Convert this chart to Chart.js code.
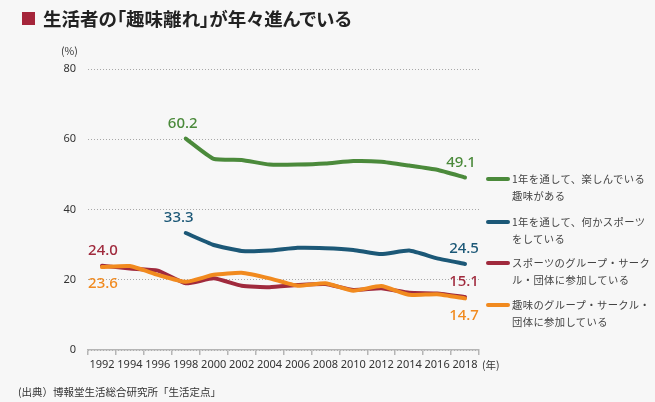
<!DOCTYPE html>
<html lang="ja">
<head>
<meta charset="utf-8">
<script src="https://cdn.jsdelivr.net/npm/chart.js@4"></script>
<style>
  html,body{margin:0;padding:0;background:#f7f7f7;}
  body{width:655px;height:402px;position:relative;overflow:hidden;font-family:"Noto Sans CJK JP","Noto Sans",sans-serif;}
  #c{position:absolute;left:0;top:0;}
  .title{position:absolute;left:22px;top:5px;font-size:18.5px;font-weight:bold;color:#222;display:flex;align-items:center;white-space:nowrap;font-feature-settings:"palt";}
  .title .sq{display:inline-block;width:13px;height:13px;background:#a5253a;margin-right:8px;}
  .src{position:absolute;left:18px;top:384px;font-size:10.5px;color:#333;white-space:nowrap;}
  .unit{position:absolute;font-size:10.5px;color:#333;white-space:nowrap;}
  .leg{position:absolute;left:486px;font-size:10.3px;color:#444;line-height:17px;letter-spacing:0.4px;}
  .leg .ln{position:absolute;left:0;top:7px;width:24px;height:4px;border-radius:2px;}
  .leg .tx{margin-left:26px;white-space:nowrap;}
</style>
</head>
<body>
<canvas id="c" width="655" height="402"></canvas>
<div class="title"><span class="sq"></span>生活者の「趣味離れ」が年々進んでいる</div>
<div class="unit" style="left:61px;top:43px;">(%)</div>
<div class="unit" style="left:482px;top:357px;">(年)</div>
<div class="src">(出典）博報堂生活総合研究所「生活定点」</div>
<div id="legend"></div>
<script>
const years = ["1992","1994","1996","1998","2000","2002","2004","2006","2008","2010","2012","2014","2016","2018"];
const seriesNames = [
  "1年を通して、楽しんでいる\n趣味がある",
  "1年を通して、何かスポーツ\nをしている",
  "スポーツのグループ・サーク\nル・団体に参加している",
  "趣味のグループ・サークル・\n団体に参加している"
];
const hobbyYear  = [null,null,null,60.2,54.4,54.1,52.8,52.8,53.1,53.8,53.6,52.5,51.3,49.1];
const sportYear  = [null,null,null,33.3,29.9,28.2,28.3,29.1,29.0,28.5,27.3,28.3,26.1,24.5];
const sportGroup = [24.0,23.2,22.6,19.0,20.4,18.3,17.9,18.5,18.8,17.1,17.6,16.3,16.1,15.1];
const hobbyGroup = [23.6,23.9,21.4,19.4,21.4,22.0,20.4,18.3,19.0,16.9,18.2,15.7,15.9,14.7];
const yTicks = [0,20,40,60,80];

const colors = ["#4b8a3b","#1c5877","#a02a3d","#f18a1f"];
const seriesData = [hobbyYear, sportYear, sportGroup, hobbyGroup];

// legend (HTML)
const legTops = [170,213,254,296];
const legEl = document.getElementById('legend');
seriesNames.forEach((n,i)=>{
  const d = document.createElement('div');
  d.className='leg'; d.style.top = legTops[i]+'px';
  d.innerHTML = '<span class="ln" style="background:'+colors[i]+'"></span><div class="tx">'+n.replace('\n','<br>')+'</div>';
  legEl.appendChild(d);
});

// value labels: [datasetIndex, pointIndex, 'above'|'below', dx]
const labelSpecs = [
  [0,3,'above',-3],[0,13,'above',-4],
  [1,3,'above',-7],[1,13,'above',-1],
  [2,0,'above',1],[2,13,'above',-1],
  [3,0,'below',1],[3,13,'below',-1]
];

const valueLabels = {
  id:'valueLabels',
  afterDatasetsDraw(chart){
    const ctx = chart.ctx;
    ctx.save();
    ctx.font = '500 15px "Noto Sans","Noto Sans CJK JP",sans-serif';
    ctx.textAlign='center'; ctx.textBaseline='middle';
    labelSpecs.forEach(([di,pi,pos,dx])=>{
      const el = chart.getDatasetMeta(di).data[pi];
      const v = chart.data.datasets[di].data[pi];
      ctx.fillStyle = colors[di];
      ctx.fillText(v.toFixed(1), el.x+dx, el.y + (pos==='above'?-15:17));
    });
    ctx.restore();
  }
};

new Chart(document.getElementById('c'),{
  type:'line',
  data:{
    labels: years,
    datasets: seriesData.map((d,i)=>({
      label: seriesNames[i],
      data: d,
      order: 3 - i,
      borderColor: colors[i],
      backgroundColor: colors[i],
      borderWidth: 4,
      pointRadius: 0,
      tension: 0.15,
      borderCapStyle:'round',
      borderJoinStyle:'round',
      spanGaps:false
    }))
  },
  options:{
    responsive:false,
    animation:false,
    layout:{padding:{left:0,right:176,top:69,bottom:0}},
    plugins:{legend:{display:false},tooltip:{enabled:false}},
    scales:{
      x:{
        type:'category',
        offset:true,
        afterFit(s){ s.height = 52; },
        border:{display:true,color:'#b5b5b5',width:1.5},
        grid:{offset:true,drawOnChartArea:false,drawTicks:true,tickLength:5,color:'#b5b5b5',lineWidth:1.5},
        ticks:{color:'#333',font:{size:11,family:'"Noto Sans","Noto Sans CJK JP",sans-serif'},padding:3,maxRotation:0,autoSkip:false}
      },
      y:{
        min:0,max:80,
        afterFit(s){ s.width = 88; },
        afterBuildTicks(s){ s.ticks = yTicks.map(v=>({value:v})); },
        border:{display:false,dash:[1,2]},
        grid:{drawTicks:false,color:'#a8a8a8',lineWidth:1},
        ticks:{color:'#333',padding:12,font:{size:11,family:'"Noto Sans","Noto Sans CJK JP",sans-serif'}}
      }
    }
  },
  plugins:[valueLabels]
});
</script>
</body>
</html>
